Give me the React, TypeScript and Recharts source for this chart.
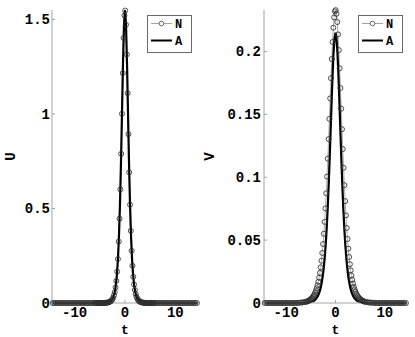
import { LineChart, Line, XAxis, YAxis, Legend } from 'recharts';

// N: numerical samples (markers), A: analytical curve (thick line)
const tN = [
  -14.36, -14.04, -13.72, -13.4, -13.08, -12.76, -12.44, -12.12, -11.8, -11.48, -11.16, -10.84, -10.52,
  -10.2, -9.88, -9.56, -9.24, -8.92, -8.6, -8.28, -7.96, -7.64, -7.32, -7.0, -6.68, -6.36,
  -6.04, -5.88, -5.72, -5.56, -5.4, -5.24, -5.08, -4.92, -4.76, -4.6, -4.44, -4.28, -4.12,
  -3.96, -3.8, -3.64, -3.48, -3.32, -3.16, -3.0, -2.84, -2.68, -2.52, -2.36, -2.2, -2.04,
  -1.88, -1.72, -1.56, -1.4, -1.24, -1.08, -0.92, -0.76, -0.6, -0.44, -0.28, -0.12,
  0.04, 0.2, 0.36, 0.52, 0.68, 0.84, 1.0, 1.16, 1.32, 1.48, 1.64, 1.8, 1.96,
  2.12, 2.28, 2.44, 2.6, 2.76, 2.92, 3.08, 3.24, 3.4, 3.56, 3.72, 3.88,
  4.04, 4.2, 4.36, 4.52, 4.68, 4.84, 5.0, 5.16, 5.32, 5.48, 5.64, 5.8, 5.96,
  6.28, 6.6, 6.92, 7.24, 7.56, 7.88, 8.2, 8.52, 8.84, 9.16, 9.48, 9.8, 10.12,
  10.44, 10.76, 11.08, 11.4, 11.72, 12.04, 12.36, 12.68, 13.0, 13.32, 13.64, 13.96, 14.28,
];

const uN = [
  0, 0, 0, 0, 0, 0, 0, 0, 0, 0, 0, 0, 0,
  0, 0, 0, 0, 0, 0, 0, 0, 0, 0, 0, 0, 0,
  0, 0, 0, 0, 0, 0, 0, 0, 0, 0, 0, 0, 0,
  0.001, 0.001, 0.002, 0.002, 0.003, 0.005, 0.007, 0.009, 0.014, 0.019, 0.028, 0.04, 0.057,
  0.082, 0.117, 0.166, 0.233, 0.325, 0.446, 0.601, 0.789, 1.001, 1.216, 1.402, 1.521,
  1.547, 1.472, 1.315, 1.11, 0.893, 0.691, 0.52, 0.382, 0.276, 0.197, 0.139, 0.098, 0.069,
  0.048, 0.033, 0.023, 0.016, 0.011, 0.008, 0.005, 0.004, 0.003, 0.002, 0.001, 0.001,
  0, 0, 0, 0, 0, 0, 0, 0, 0, 0, 0, 0, 0,
  0, 0, 0, 0, 0, 0, 0, 0, 0, 0, 0, 0, 0,
  0, 0, 0, 0, 0, 0, 0, 0, 0, 0, 0, 0, 0,
];

const vN = [
  0, 0, 0, 0, 0, 0, 0, 0, 0, 0, 0, 0, 0,
  0, 0, 0, 0, 0, 0, 0, 0, 0.0001, 0.0002, 0.0003, 0.0005, 0.0007,
  0.0009, 0.0011, 0.0013, 0.0016, 0.0019, 0.0023, 0.0028, 0.0033, 0.004, 0.0048, 0.0058, 0.0069, 0.0083,
  0.0099, 0.0118, 0.0141, 0.0168, 0.0201, 0.0239, 0.0284, 0.0336, 0.0398, 0.0469, 0.0551, 0.0645, 0.0752,
  0.0872, 0.1005, 0.1148, 0.1303, 0.1464, 0.1627, 0.1788, 0.194, 0.2076, 0.2189, 0.2271, 0.2319,
  0.2329, 0.23, 0.2234, 0.2136, 0.2011, 0.1866, 0.1709, 0.1545, 0.1382, 0.1224, 0.1075, 0.0937, 0.081,
  0.0697, 0.0597, 0.0509, 0.0432, 0.0366, 0.0309, 0.026, 0.0219, 0.0184, 0.0154, 0.0129, 0.0108,
  0.009, 0.0075, 0.0063, 0.0053, 0.0044, 0.0037, 0.0031, 0.0025, 0.0021, 0.0018, 0.0015, 0.0012, 0.001,
  0.0008, 0.0005, 0.0004, 0.0002, 0.0002, 0.0001, 0, 0, 0, 0, 0, 0, 0,
  0, 0, 0, 0, 0, 0, 0, 0, 0, 0, 0, 0, 0,
];

const tA = [
  -14.4, -6, -5, -4.8, -4.6, -4.4, -4.2, -4, -3.8, -3.6, -3.4, -3.2, -3, -2.8, -2.6, -2.4, -2.2, -2,
  -1.8, -1.6, -1.4, -1.2, -1, -0.8, -0.6, -0.4, -0.2, 0, 0.2, 0.4, 0.6, 0.8, 1, 1.2, 1.4, 1.6, 1.8,
  2, 2.2, 2.4, 2.6, 2.8, 3, 3.2, 3.4, 3.6, 3.8, 4, 4.2, 4.4, 4.6, 4.8, 5, 6, 14.4,
];

const uA = [
  0, 0, 0, 0, 0, 0, 0, 0.001, 0.001, 0.002, 0.003, 0.004, 0.007, 0.01, 0.016, 0.026, 0.04, 0.063,
  0.098, 0.152, 0.233, 0.352, 0.52, 0.739, 1.001, 1.266, 1.472, 1.55, 1.472, 1.266, 1.001, 0.739, 0.52, 0.352, 0.233, 0.152, 0.098,
  0.063, 0.04, 0.026, 0.016, 0.01, 0.007, 0.004, 0.003, 0.002, 0.001, 0.001, 0, 0, 0, 0, 0, 0, 0,
];

const vA = [
  0, 0.0002, 0.0008, 0.001, 0.0013, 0.0017, 0.0023, 0.0031, 0.004, 0.0053, 0.007, 0.0093, 0.0122, 0.016, 0.021, 0.0274, 0.0355, 0.0458,
  0.0585, 0.074, 0.0922, 0.1131, 0.1358, 0.159, 0.1808, 0.1988, 0.2108, 0.215, 0.2108, 0.1988, 0.1808, 0.159, 0.1358, 0.1131, 0.0922, 0.074, 0.0585,
  0.0458, 0.0355, 0.0274, 0.021, 0.016, 0.0122, 0.0093, 0.007, 0.0053, 0.004, 0.0031, 0.0023, 0.0017, 0.0013, 0.001, 0.0008, 0.0002, 0,
];

const tTicks = [-10, 0, 10];
const uTicks = [0, 0.5, 1, 1.5];
const vTicks = [0, 0.05, 0.1, 0.15, 0.2];

const FONT = '"Liberation Mono", "DejaVu Sans Mono", monospace';
const AXIS_GRAY = '#a3a3a3';

const tickStyle = { fontFamily: FONT, fontSize: 14, fontWeight: 'bold', fill: '#000' };

const LegendBox = () => (
  <svg width={45} height={38} style={{ display: 'block' }}>
    <rect x={0.5} y={0.5} width={44} height={37} fill="#fff" stroke="#6a6a6a" />
    <line x1={4} x2={25} y1={8.5} y2={8.5} stroke="#8a8a8a" strokeWidth={0.8} />
    <circle cx={14.5} cy={8.5} r={2.3} fill="#fff" stroke="#444" strokeWidth={0.8} />
    <text x={28} y={12.5} fontFamily={FONT} fontWeight="bold" fontSize={12} fill="#000">N</text>
    <line x1={4} x2={25} y1={25.5} y2={25.5} stroke="#000" strokeWidth={2} />
    <text x={28} y={29.5} fontFamily={FONT} fontWeight="bold" fontSize={12} fill="#000">A</text>
  </svg>
);

interface PanelProps {
  nValues: number[];
  aValues: number[];
  yMax: number;
  yTicks: number[];
  yLabel: string;
  width: number;
  yAxisWidth: number;
  marginRight: number;
  tickMargin: number;
  labelDx: number;
  legendLeft: number;
}

const Panel = ({ nValues, aValues, yMax, yTicks, yLabel, width, yAxisWidth, marginRight, tickMargin, labelDx, legendLeft }: PanelProps) => {
  const nData = tN.map((t, i) => ({ t, y: nValues[i] }));
  const aData = tA.map((t, i) => ({ t, y: aValues[i] }));

  return (
    <LineChart width={width} height={337} margin={{ top: 10, right: marginRight, bottom: 0, left: 0 }}>
      <XAxis
        type="number"
        dataKey="t"
        domain={[-14.5, 14.5]}
        ticks={tTicks}
        height={34}
        tickSize={-3}
        tickMargin={7}
        stroke={AXIS_GRAY}
        tick={tickStyle}
        label={{ value: 't', position: 'insideBottom', offset: 3.5, fontFamily: FONT, fontSize: 13, fontWeight: 'bold', fill: '#000' }}
      />
      <YAxis
        type="number"
        domain={[0, yMax]}
        ticks={yTicks}
        width={yAxisWidth}
        tickSize={-3}
        tickMargin={tickMargin}
        stroke={AXIS_GRAY}
        tick={tickStyle}
        label={{ value: yLabel, angle: -90, position: 'center', dx: labelDx, fontFamily: FONT, fontSize: 14, fontWeight: 'bold', fill: '#000' }}
      />
      <Legend
        layout="vertical"
        align="center"
        verticalAlign="middle"
        content={() => <LegendBox />}
        wrapperStyle={{ position: 'absolute', left: legendLeft, top: 15, width: 45, height: 38 }}
      />
      <Line
        data={nData}
        dataKey="y"
        name="N"
        stroke="#8a8a8a"
        strokeWidth={0.7}
        dot={{ r: 2.5, stroke: '#2e2e2e', strokeWidth: 0.85, fill: 'none' }}
        activeDot={false}
        isAnimationActive={false}
      />
      <Line
        data={aData}
        dataKey="y"
        name="A"
        stroke="#000"
        strokeWidth={2.2}
        dot={false}
        activeDot={false}
        isAnimationActive={false}
      />
    </LineChart>
  );
};

export default function App() {
  return (
    <div style={{ position: 'absolute', left: 0, top: 0, width: 415, height: 337, background: '#fff' }}>
      <div style={{ position: 'absolute', left: 0, top: 0 }}>
        <Panel
          nValues={uN}
          aValues={uA}
          yMax={1.55}
          yTicks={uTicks}
          yLabel="U"
          width={200}
          yAxisWidth={52}
          marginRight={2}
          tickMargin={5}
          labelDx={-15.5}
          legendLeft={147}
        />
      </div>
      <div style={{ position: 'absolute', left: 200, top: 0 }}>
        <Panel
          nValues={vN}
          aValues={vA}
          yMax={0.233}
          yTicks={vTicks}
          yLabel="V"
          width={215}
          yAxisWidth={64}
          marginRight={8}
          tickMargin={6}
          labelDx={-22.5}
          legendLeft={158}
        />
      </div>
    </div>
  );
}
